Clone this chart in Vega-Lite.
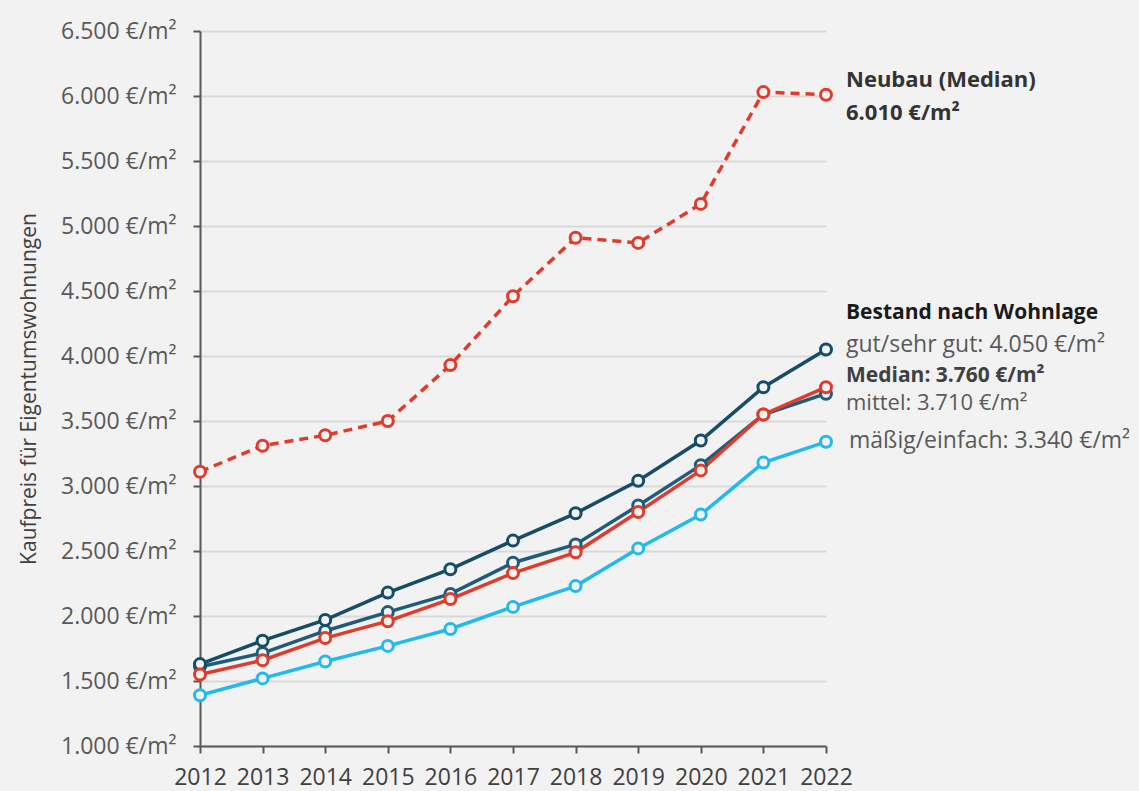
{
  "$schema": "https://vega.github.io/schema/vega-lite/v6.json",
  "width": 626,
  "height": 715,
  "autosize": {"type": "none"},
  "padding": {"left": 200, "top": 31, "right": 313, "bottom": 45},
  "background": "#f2f2f2",
  "config": {
    "view": {"stroke": null},
    "font": "Open Sans",
    "axis": {"labelFont": "Open Sans", "titleFont": "Open Sans"}
  },
  "datasets": {
    "series": [
      {"series": "maessig", "year": 2012, "value": 1390},
      {"series": "maessig", "year": 2013, "value": 1520},
      {"series": "maessig", "year": 2014, "value": 1650},
      {"series": "maessig", "year": 2015, "value": 1770},
      {"series": "maessig", "year": 2016, "value": 1900},
      {"series": "maessig", "year": 2017, "value": 2070},
      {"series": "maessig", "year": 2018, "value": 2230},
      {"series": "maessig", "year": 2019, "value": 2520},
      {"series": "maessig", "year": 2020, "value": 2780},
      {"series": "maessig", "year": 2021, "value": 3180},
      {"series": "maessig", "year": 2022, "value": 3340},
      {"series": "mittel", "year": 2012, "value": 1610},
      {"series": "mittel", "year": 2013, "value": 1715},
      {"series": "mittel", "year": 2014, "value": 1885},
      {"series": "mittel", "year": 2015, "value": 2030},
      {"series": "mittel", "year": 2016, "value": 2170},
      {"series": "mittel", "year": 2017, "value": 2410},
      {"series": "mittel", "year": 2018, "value": 2550},
      {"series": "mittel", "year": 2019, "value": 2850},
      {"series": "mittel", "year": 2020, "value": 3160},
      {"series": "mittel", "year": 2021, "value": 3550},
      {"series": "mittel", "year": 2022, "value": 3710},
      {"series": "gut", "year": 2012, "value": 1630},
      {"series": "gut", "year": 2013, "value": 1810},
      {"series": "gut", "year": 2014, "value": 1970},
      {"series": "gut", "year": 2015, "value": 2180},
      {"series": "gut", "year": 2016, "value": 2360},
      {"series": "gut", "year": 2017, "value": 2580},
      {"series": "gut", "year": 2018, "value": 2790},
      {"series": "gut", "year": 2019, "value": 3040},
      {"series": "gut", "year": 2020, "value": 3350},
      {"series": "gut", "year": 2021, "value": 3760},
      {"series": "gut", "year": 2022, "value": 4050},
      {"series": "median", "year": 2012, "value": 1550},
      {"series": "median", "year": 2013, "value": 1660},
      {"series": "median", "year": 2014, "value": 1830},
      {"series": "median", "year": 2015, "value": 1960},
      {"series": "median", "year": 2016, "value": 2130},
      {"series": "median", "year": 2017, "value": 2330},
      {"series": "median", "year": 2018, "value": 2490},
      {"series": "median", "year": 2019, "value": 2800},
      {"series": "median", "year": 2020, "value": 3120},
      {"series": "median", "year": 2021, "value": 3550},
      {"series": "median", "year": 2022, "value": 3760},
      {"series": "neubau", "year": 2012, "value": 3110},
      {"series": "neubau", "year": 2013, "value": 3310},
      {"series": "neubau", "year": 2014, "value": 3390},
      {"series": "neubau", "year": 2015, "value": 3500},
      {"series": "neubau", "year": 2016, "value": 3930},
      {"series": "neubau", "year": 2017, "value": 4460},
      {"series": "neubau", "year": 2018, "value": 4910},
      {"series": "neubau", "year": 2019, "value": 4870},
      {"series": "neubau", "year": 2020, "value": 5170},
      {"series": "neubau", "year": 2021, "value": 6030},
      {"series": "neubau", "year": 2022, "value": 6010}
    ]
  },
  "data": {"name": "series"},
  "encoding": {
    "x": {
      "field": "year", "type": "quantitative",
      "scale": {"domain": [2012, 2022], "nice": false, "zero": false},
      "axis": {
        "values": [2012, 2013, 2014, 2015, 2016, 2017, 2018, 2019, 2020, 2021, 2022],
        "format": "d", "title": null, "grid": false,
        "domainColor": "#595959", "domainWidth": 2,
        "tickColor": "#595959", "tickWidth": 2, "tickSize": 7,
        "labelFontSize": 23, "labelColor": "#404040", "labelPadding": 13,
        "labelFlush": false
      }
    },
    "y": {
      "field": "value", "type": "quantitative",
      "scale": {"domain": [1000, 6500], "nice": false, "zero": false},
      "axis": {
        "values": [1000, 1500, 2000, 2500, 3000, 3500, 4000, 4500, 5000, 5500, 6000, 6500],
        "labelExpr": "replace(format(datum.value, ','), ',', '.') + ' €/m²'",
        "title": "Kaufpreis für Eigentumswohnungen",
        "titleFontSize": 21, "titleFontWeight": "normal", "titleColor": "#404040",
        "titlePadding": 21,
        "grid": true, "gridColor": "#d9d9d9", "gridWidth": 2,
        "domainColor": "#595959", "domainWidth": 2,
        "tickColor": "#595959", "tickWidth": 2, "tickSize": 7,
        "labelFontSize": 23, "labelColor": "#595959", "labelPadding": 17
      }
    },
    "color": {
      "field": "series", "type": "nominal",
      "scale": {
        "domain": ["maessig", "mittel", "gut", "median", "neubau"],
        "range": ["#22b9ee", "#1f5c7a", "#154c66", "#e03c2c", "#e03c2c"]
      },
      "legend": null
    },
    "detail": {"field": "series"}
  },
  "layer": [
    {
      "transform": [{"filter": "datum.series != 'neubau'"}],
      "mark": {"type": "line", "strokeWidth": 3.5}
    },
    {
      "transform": [{"filter": "datum.series == 'neubau'"}],
      "mark": {"type": "line", "strokeWidth": 3.5, "strokeDash": [9, 6]}
    },
    {
      "mark": {"type": "point", "shape": "circle", "filled": false, "fill": "#f2f2f2", "fillOpacity": 1, "size": 120, "strokeWidth": 3, "opacity": 1}
    },
    {
      "transform": [{"filter": "datum.series == 'neubau' && datum.year == 2022"}],
      "mark": {"type": "text", "align": "left", "baseline": "middle", "dx": 20, "dy": -15, "fontSize": 22, "fontWeight": "bold", "color": "#333333"},
      "encoding": {"text": {"value": "Neubau (Median)"}, "color": {"value": "#333333"}}
    },
    {
      "transform": [{"filter": "datum.series == 'neubau' && datum.year == 2022"}],
      "mark": {"type": "text", "align": "left", "baseline": "middle", "dx": 20, "dy": 18, "fontSize": 22, "fontWeight": "bold", "color": "#333333"},
      "encoding": {"text": {"value": "6.010 €/m²"}, "color": {"value": "#333333"}}
    },
    {
      "transform": [{"filter": "datum.series == 'gut' && datum.year == 2022"}],
      "mark": {"type": "text", "align": "left", "baseline": "middle", "dx": 20, "dy": -37, "fontSize": 21, "fontWeight": "bold", "color": "#1a1a1a"},
      "encoding": {"text": {"value": "Bestand nach Wohnlage"}, "color": {"value": "#1a1a1a"}}
    },
    {
      "transform": [{"filter": "datum.series == 'gut' && datum.year == 2022"}],
      "mark": {"type": "text", "align": "left", "baseline": "middle", "dx": 20, "dy": -5, "fontSize": 23, "color": "#595959"},
      "encoding": {"text": {"value": "gut/sehr gut: 4.050 €/m²"}, "color": {"value": "#595959"}}
    },
    {
      "transform": [{"filter": "datum.series == 'median' && datum.year == 2022"}],
      "mark": {"type": "text", "align": "left", "baseline": "middle", "dx": 20, "dy": -11, "fontSize": 21, "fontWeight": "bold", "color": "#404040"},
      "encoding": {"text": {"value": "Median: 3.760 €/m²"}, "color": {"value": "#404040"}}
    },
    {
      "transform": [{"filter": "datum.series == 'mittel' && datum.year == 2022"}],
      "mark": {"type": "text", "align": "left", "baseline": "middle", "dx": 20, "dy": 9, "fontSize": 22, "color": "#595959"},
      "encoding": {"text": {"value": "mittel: 3.710 €/m²"}, "color": {"value": "#595959"}}
    },
    {
      "transform": [{"filter": "datum.series == 'maessig' && datum.year == 2022"}],
      "mark": {"type": "text", "align": "left", "baseline": "middle", "dx": 23, "dy": -1, "fontSize": 23, "color": "#595959"},
      "encoding": {"text": {"value": "mäßig/einfach: 3.340 €/m²"}, "color": {"value": "#595959"}}
    }
  ]
}
